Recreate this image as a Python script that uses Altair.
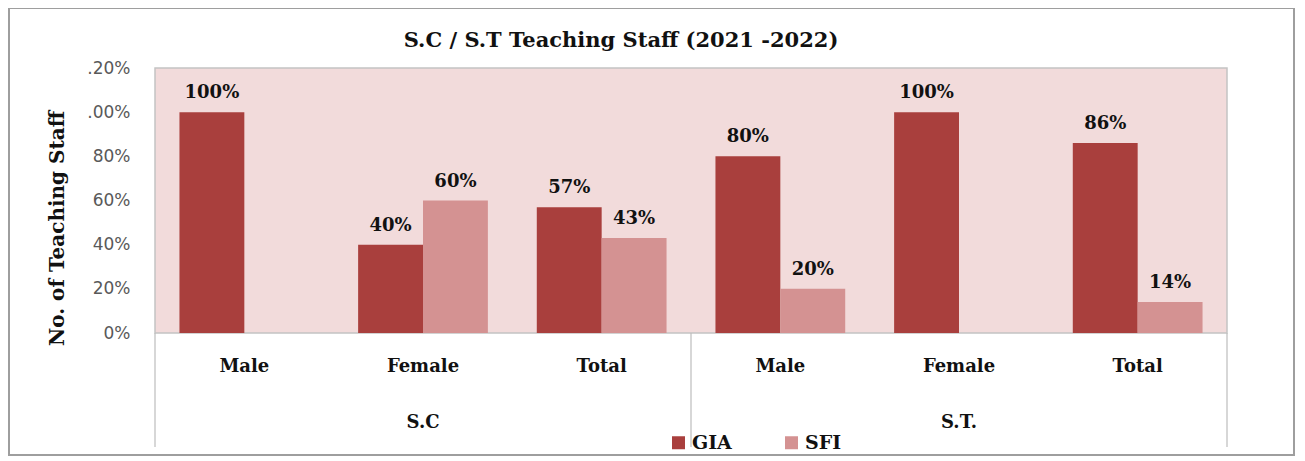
import altair as alt
import pandas as pd

groups = ["S.C", "S.C", "S.C", "S.T.", "S.T.", "S.T."]
subs = ["Male", "Female", "Total", "Male", "Female", "Total"]
gia = [100, 40, 57, 80, 100, 86]
sfi = [0, 60, 43, 20, 0, 14]
series_names = ["GIA", "SFI"]
series_colors = ["#A93F3D", "#D49292"]
y_ticks = [0, 0.2, 0.4, 0.6, 0.8, 1.0, 1.2]
title_text = ["S.C / S.T Teaching Staff (2021 -2022)"]

keys = [g + "|" + s for g, s in zip(groups, subs)]

rows = []
for k, a, b in zip(keys, gia, sfi):
    rows.append({"key": k, "series": "GIA", "value": a / 100, "txt": f"{a}%"})
    rows.append({"key": k, "series": "SFI", "value": b / 100, "txt": f"{b}%"})
df = pd.DataFrame(rows)

grp_df = pd.DataFrame({"key": ["S.C|Female", "S.T.|Female"], "grp": ["S.C", "S.T."]})
sep_left = pd.DataFrame({"key": ["S.C|Male", "S.T.|Male"]})
sep_right = pd.DataFrame({"key": ["S.T.|Total"]})
frame_df = pd.DataFrame({"f": [1]})
title_df = pd.DataFrame({"t": title_text})

SERIF = "DejaVu Serif"
xscale = alt.Scale(domain=keys, paddingInner=0, paddingOuter=0)
offscale = alt.Scale(domain=series_names, paddingInner=0, paddingOuter=0.377)

x_enc = alt.X(
    "key:N",
    scale=xscale,
    title=None,
    axis=alt.Axis(
        labelExpr="split(datum.label, '|')[1]",
        labelAngle=0,
        labelFont=SERIF,
        labelFontWeight="bold",
        labelFontSize=18,
        labelColor="#111111",
        labelBaseline="middle",
        labelPadding=33,
        ticks=False,
        domain=False,
    ),
)

bars = alt.Chart(df).mark_bar().encode(
    x=x_enc,
    xOffset=alt.XOffset("series:N", scale=offscale),
    y=alt.Y(
        "value:Q",
        scale=alt.Scale(domain=[0, 1.2], nice=False),
        title="No. of Teaching Staff",
        axis=alt.Axis(
            values=y_ticks,
            labelExpr="datum.value >= 1 ? '.' + slice(format(datum.value, '.0%'), 1) : format(datum.value, '.0%')",
            labelFont="DejaVu Sans",
            labelFontSize=17,
            labelColor="#595959",
            labelPadding=25,
            ticks=False,
            domain=False,
            grid=False,
            titleFont=SERIF,
            titleFontWeight="bold",
            titleFontSize=20,
            titleColor="#111111",
            titleX=-98,
            titleY=160,
            titleBaseline="middle",
        ),
    ),
    color=alt.Color(
        "series:N",
        scale=alt.Scale(domain=series_names, range=series_colors),
        legend=alt.Legend(
            title=None,
            orient="none",
            legendX=514,
            legendY=365,
            direction="horizontal",
            symbolType="square",
            symbolSize=169,
            symbolStrokeWidth=0,
            labelFont=SERIF,
            labelFontWeight="bold",
            labelFontSize=19,
            labelColor="#111111",
            labelOffset=4,
            columnPadding=50,
            padding=0,
        ),
    ),
)

labels = alt.Chart(df).transform_filter("datum.value > 0").mark_text(
    font=SERIF, fontWeight="bold", fontSize=18, baseline="bottom", dy=-10, color="#111111"
).encode(
    x=alt.X("key:N", scale=xscale),
    xOffset=alt.XOffset("series:N", scale=offscale),
    y="value:Q",
    text="txt:N",
)

grp_labels = alt.Chart(grp_df).mark_text(
    font=SERIF, fontWeight="bold", fontSize=18, color="#111111", baseline="middle"
).encode(
    x=alt.X("key:N", scale=xscale),
    y=alt.value(355),
    text="grp:N",
)

rule_l = alt.Chart(sep_left).mark_rule(color="#BDBDBD", strokeWidth=1.2).encode(
    x=alt.X("key:N", scale=xscale, bandPosition=0),
    y=alt.value(265),
    y2=alt.value(379),
)
rule_r = alt.Chart(sep_right).mark_rule(color="#BDBDBD", strokeWidth=1.2).encode(
    x=alt.X("key:N", scale=xscale, bandPosition=1),
    y=alt.value(265),
    y2=alt.value(379),
)

frame = alt.Chart(frame_df).mark_rect(
    filled=False, fill="transparent", stroke="#9E9E9E", strokeWidth=2
).encode(
    x=alt.value(-146),
    x2=alt.value(1139),
    y=alt.value(-60),
    y2=alt.value(387),
)

title = alt.Chart(title_df).mark_text(
    font=SERIF, fontWeight="bold", fontSize=21, color="#111111", baseline="middle", align="center"
).encode(
    x=alt.value(466),
    y=alt.value(-27),
    text="t:N",
)

chart = alt.layer(frame, bars, labels, grp_labels, rule_l, rule_r, title).properties(
    width=1072,
    height=265,
    padding={"left": 147, "top": 60, "right": 68, "bottom": 124},
    autosize=alt.AutoSizeParams(type="none"),
    background="white",
).configure_view(
    fill="#F2DBDB", stroke="#C4C4C4", strokeWidth=1.5
)

chart.save("out.html", embed_options={"renderer": "svg", "actions": False})
